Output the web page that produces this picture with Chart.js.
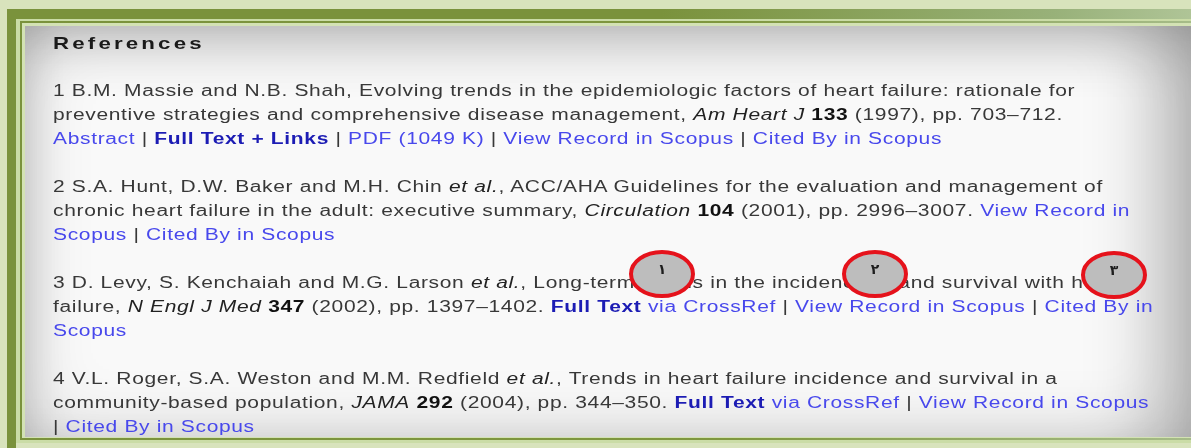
<!DOCTYPE html>
<html>
<head>
<meta charset="utf-8">
<script src="https://cdn.jsdelivr.net/npm/chart.js@4"></script>
<style>
  html, body { margin: 0; padding: 0; }
  body { width: 1191px; height: 448px; overflow: hidden; position: relative; background: #d8e3bc; font-family: "Liberation Sans", Arial, sans-serif; }
  .topbar { position: absolute; left: 7px; top: 9px; width: 1190px; height: 10px;
    background: linear-gradient(to right, #7a923c 0%, #7a923c 55%, #98b179 88%, #b0c598 100%); }
  .leftbar { position: absolute; left: 7px; top: 9px; width: 9px; height: 450px; background: #7a923c; }
  .light1 { position: absolute; left: 16px; top: 19px; width: 1190px; height: 424px; background: #cadca6; }
  .dark2 { position: absolute; left: 20px; top: 21px; width: 1190px; height: 419px;
    background: linear-gradient(to right, #7a923c 0%, #7f973f 60%, #a7bd8b 100%); }
  .light2 { position: absolute; left: 22px; top: 23px; width: 1190px; height: 415px; background: #d3e2b4; }
  .panel { position: absolute; left: 25px; top: 26px; width: 1166px; height: 411px; background: #f9f9f9;
    box-shadow:
      inset 0 0 70px rgba(0,0,0,0.16),
      inset 0 45px 55px -25px rgba(0,0,0,0.14),
      inset -70px 0 70px -30px rgba(0,0,0,0.2),
      inset 30px 0 40px -20px rgba(0,0,0,0.1); }
  .refs { position: absolute; left: 53px; top: 0; transform: scaleX(1.312); transform-origin: 0 0; white-space: nowrap; color: #383838; }
  .refs h1 { position: absolute; top: 33px; left: 0; margin: 0; font-size: 17px; line-height: 22px; letter-spacing: 2.4px; color: #1a1a1a; font-weight: bold; }
  .refs .ln { position: absolute; left: 0; font-size: 16px; line-height: 24px; letter-spacing: 0.5px; }
  .refs b { color: #111; }
  .refs i { color: #222; }
  .lk { color: #4848ec; }
  .lkb { color: #1c1cb4; font-weight: bold; }
  #wrap { position: absolute; left: 0; top: 0; width: 1191px; height: 448px; }
</style>
</head>
<body>
<div class="topbar"></div>
<div class="leftbar"></div>
<div class="light1"></div>
<div class="dark2"></div>
<div class="light2"></div>
<div class="panel"></div>
<div class="refs">
  <h1>References</h1>
  <div class="ln" style="top:79px">1 B.M. Massie and N.B. Shah, Evolving trends in the epidemiologic factors of heart failure: rationale for</div>
  <div class="ln" style="top:103px">preventive strategies and comprehensive disease management, <i>Am Heart J</i> <b>133</b> (1997), pp. 703–712.</div>
  <div class="ln" style="top:127px"><span class="lk">Abstract</span> | <span class="lkb">Full Text + Links</span> | <span class="lk">PDF (1049 K)</span> | <span class="lk">View Record in Scopus</span> | <span class="lk">Cited By in Scopus</span></div>
  <div class="ln" style="top:175px">2 S.A. Hunt, D.W. Baker and M.H. Chin <i>et al.</i>, ACC/AHA Guidelines for the evaluation and management of</div>
  <div class="ln" style="top:199px">chronic heart failure in the adult: executive summary, <i>Circulation</i> <b>104</b> (2001), pp. 2996–3007. <span class="lk">View Record in</span></div>
  <div class="ln" style="top:223px"><span class="lk">Scopus</span> | <span class="lk">Cited By in Scopus</span></div>
  <div class="ln" style="top:271px">3 D. Levy, S. Kenchaiah and M.G. Larson <i>et al.</i>, Long-term trends in the incidence of and survival with heart</div>
  <div class="ln" style="top:295px">failure, <i>N Engl J Med</i> <b>347</b> (2002), pp. 1397–1402. <span class="lkb">Full Text</span> <span class="lk">via CrossRef</span> | <span class="lk">View Record in Scopus</span> | <span class="lk">Cited By in</span></div>
  <div class="ln" style="top:319px"><span class="lk">Scopus</span></div>
  <div class="ln" style="top:367px">4 V.L. Roger, S.A. Weston and M.M. Redfield <i>et al.</i>, Trends in heart failure incidence and survival in a</div>
  <div class="ln" style="top:391px">community-based population, <i>JAMA</i> <b>292</b> (2004), pp. 344–350. <span class="lkb">Full Text</span> <span class="lk">via CrossRef</span> | <span class="lk">View Record in Scopus</span></div>
  <div class="ln" style="top:415px">| <span class="lk">Cited By in Scopus</span></div>
</div>
<div id="wrap"><canvas id="marks" width="1191" height="448"></canvas></div>
<script>
// callout markers placed over reference 3 (page pixel units)
const markerLabels = ['١', '٢', '٣'];
const markerX = [662, 875, 1114];
const markerY = [274, 274, 275];

// ellipse marker drawn once, used as the point style
function makeEllipse() {
  const c = document.createElement('canvas');
  c.width = 70; c.height = 52;
  const g = c.getContext('2d');
  g.beginPath();
  g.ellipse(35, 26, 31, 22, 0, 0, Math.PI * 2);
  g.fillStyle = '#bdbdbd';
  g.fill();
  g.lineWidth = 4;
  g.strokeStyle = '#e5121b';
  g.stroke();
  return c;
}

const labelPlugin = {
  id: 'markerLabels',
  afterDatasetsDraw(chart) {
    const ctx = chart.ctx;
    const meta = chart.getDatasetMeta(0);
    ctx.save();
    ctx.font = 'bold 14px "DejaVu Sans"';
    ctx.fillStyle = '#1e1e1e';
    ctx.textAlign = 'center';
    ctx.textBaseline = 'middle';
    meta.data.forEach((pt, i) => {
      ctx.fillText(markerLabels[i], pt.x, pt.y - 4);
    });
    ctx.restore();
  }
};

new Chart(document.getElementById('marks'), {
  type: 'scatter',
  data: {
    datasets: [{
      data: markerX.map((x, i) => ({ x: x, y: markerY[i] })),
      pointStyle: makeEllipse(),
      pointRadius: 26,
    }]
  },
  options: {
    responsive: false,
    animation: false,
    layout: { padding: 0, autoPadding: false },
    plugins: { legend: { display: false }, tooltip: { enabled: false } },
    scales: {
      x: { type: 'linear', min: 0, max: 1191, display: false },
      y: { type: 'linear', min: 0, max: 448, reverse: true, display: false },
    }
  },
  plugins: [labelPlugin]
});
</script>
</body>
</html>
